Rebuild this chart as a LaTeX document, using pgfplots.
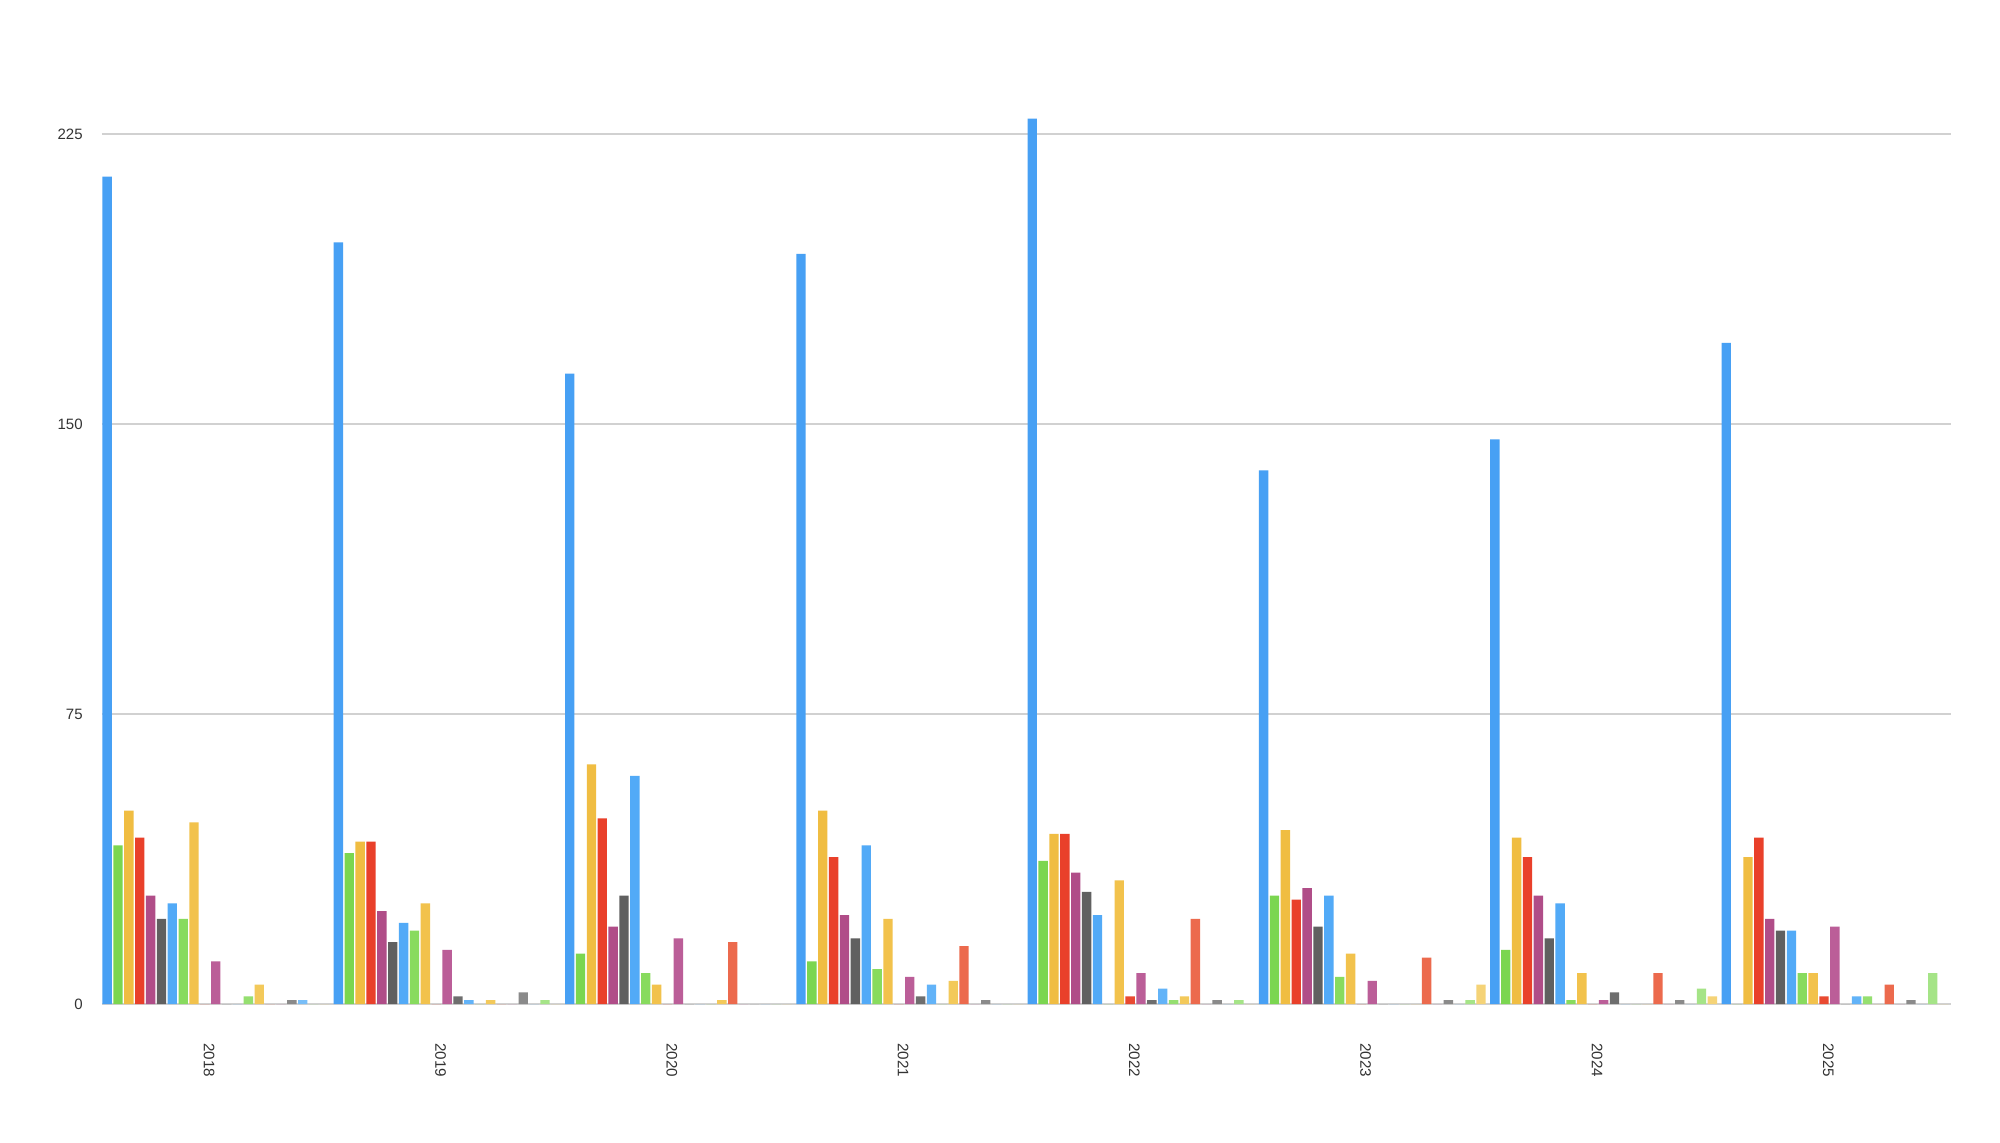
\documentclass[border=0pt]{standalone}
\usepackage{pgfplots}
\pgfplotsset{compat=1.18}
\usepackage{fontspec}
\setmainfont{Liberation Sans}
\definecolor{c0}{HTML}{47A0F4}
\definecolor{c1}{HTML}{7BD650}
\definecolor{c2}{HTML}{F0BD42}
\definecolor{c3}{HTML}{E9402A}
\definecolor{c4}{HTML}{B04D88}
\definecolor{c5}{HTML}{606060}
\definecolor{c6}{HTML}{52AAF7}
\definecolor{c7}{HTML}{88DB5E}
\definecolor{c8}{HTML}{F2C24C}
\definecolor{c9}{HTML}{E94A31}
\definecolor{c10}{HTML}{BB5E98}
\definecolor{c11}{HTML}{6E6E6E}
\definecolor{c12}{HTML}{62B3F8}
\definecolor{c13}{HTML}{95DF70}
\definecolor{c14}{HTML}{F3C95A}
\definecolor{c15}{HTML}{EC6A4D}
\definecolor{c16}{HTML}{C475A6}
\definecolor{c17}{HTML}{8A8A8A}
\definecolor{c18}{HTML}{78BEF8}
\definecolor{c19}{HTML}{A5E487}
\definecolor{c20}{HTML}{F5D377}
\definecolor{txt}{HTML}{333333}
\begin{document}
\begin{tikzpicture}
\path[use as bounding box, fill=white] (0,0) rectangle (1000pt,571pt);
\begin{axis}[
  at={(51pt,69pt)}, anchor=south west,
  width=924.5pt, height=464pt, scale only axis,
  xmin=-0.492, xmax=7.502, ymin=0, ymax=240,
  ybar, bar width=0.0405,
  axis line style={draw=none},
  major tick length=0pt,
  ytick={0,75,150,225},
  ymajorgrids, grid style={draw=black!18, line width=0.8pt},
  xtick={0,1,2,3,4,5,6,7},
  xticklabels={2018,2019,2020,2021,2022,2023,2024,2025},
  xticklabel style={xshift=-3.3pt, yshift=-19.5pt, rotate=-90, anchor=west, inner sep=0pt, font=\fontsize{7.6}{9}\selectfont, text=txt},
  yticklabel style={anchor=east, inner sep=0pt, xshift=-9.5pt, font=\fontsize{7.5}{9}\selectfont, text=txt},
  /pgf/number format/assume math mode=true,
  every axis plot/.append style={draw=none},
]
\addplot[fill=c0, bar shift=-0.470] coordinates {(0,214)(1,197)(2,163)(3,194)(4,229)(5,138)(6,146)(7,171)};
\addplot[fill=c1, bar shift=-0.423] coordinates {(0,41)(1,39)(2,13)(3,11)(4,37)(5,28)(6,14)(7,0)};
\addplot[fill=c2, bar shift=-0.376] coordinates {(0,50)(1,42)(2,62)(3,50)(4,44)(5,45)(6,43)(7,38)};
\addplot[fill=c3, bar shift=-0.329] coordinates {(0,43)(1,42)(2,48)(3,38)(4,44)(5,27)(6,38)(7,43)};
\addplot[fill=c4, bar shift=-0.282] coordinates {(0,28)(1,24)(2,20)(3,23)(4,34)(5,30)(6,28)(7,22)};
\addplot[fill=c5, bar shift=-0.235] coordinates {(0,22)(1,16)(2,28)(3,17)(4,29)(5,20)(6,17)(7,19)};
\addplot[fill=c6, bar shift=-0.188] coordinates {(0,26)(1,21)(2,59)(3,41)(4,23)(5,28)(6,26)(7,19)};
\addplot[fill=c7, bar shift=-0.141] coordinates {(0,22)(1,19)(2,8)(3,9)(4,0)(5,7)(6,1)(7,8)};
\addplot[fill=c8, bar shift=-0.094] coordinates {(0,47)(1,26)(2,5)(3,22)(4,32)(5,13)(6,8)(7,8)};
\addplot[fill=c9, bar shift=-0.047] coordinates {(0,0)(1,0)(2,0)(3,0)(4,2)(5,0)(6,0)(7,2)};
\addplot[fill=c10, bar shift=0] coordinates {(0,11)(1,14)(2,17)(3,7)(4,8)(5,6)(6,1)(7,20)};
\addplot[fill=c11, bar shift=0.047] coordinates {(0,0)(1,2)(2,0)(3,2)(4,1)(5,0)(6,3)(7,0)};
\addplot[fill=c12, bar shift=0.094] coordinates {(0,0)(1,1)(2,0)(3,5)(4,4)(5,0)(6,0)(7,2)};
\addplot[fill=c13, bar shift=0.141] coordinates {(0,2)(1,0)(2,0)(3,0)(4,1)(5,0)(6,0)(7,2)};
\addplot[fill=c14, bar shift=0.188] coordinates {(0,5)(1,1)(2,1)(3,6)(4,2)(5,0)(6,0)(7,0)};
\addplot[fill=c15, bar shift=0.235] coordinates {(0,0)(1,0)(2,16)(3,15)(4,22)(5,12)(6,8)(7,5)};
\addplot[fill=c16, bar shift=0.282] coordinates {(0,0)(1,0)(2,0)(3,0)(4,0)(5,0)(6,0)(7,0)};
\addplot[fill=c17, bar shift=0.329] coordinates {(0,1)(1,3)(2,0)(3,1)(4,1)(5,1)(6,1)(7,1)};
\addplot[fill=c18, bar shift=0.376] coordinates {(0,1)(1,0)(2,0)(3,0)(4,0)(5,0)(6,0)(7,0)};
\addplot[fill=c19, bar shift=0.423] coordinates {(0,0)(1,1)(2,0)(3,0)(4,1)(5,1)(6,4)(7,8)};
\addplot[fill=c20, bar shift=0.470] coordinates {(0,0)(1,0)(2,0)(3,0)(4,0)(5,5)(6,2)(7,0)};
\end{axis}
\end{tikzpicture}
\end{document}
